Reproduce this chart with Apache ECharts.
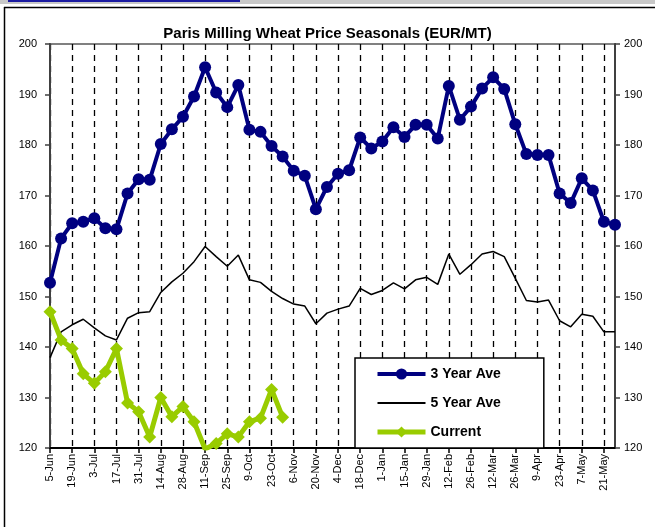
<!DOCTYPE html>
<html>
<head>
<meta charset="utf-8">
<script src="https://cdn.jsdelivr.net/npm/echarts@6/dist/echarts.min.js"></script>
<style>
html,body{margin:0;padding:0;background:#fff;}
#chart{width:655px;height:527px;}
</style>
</head>
<body>
<div id="chart"></div>
<script>
const categories = ['5-Jun','12-Jun','19-Jun','26-Jun','3-Jul','10-Jul','17-Jul','24-Jul','31-Jul','7-Aug','14-Aug','21-Aug','28-Aug','4-Sep','11-Sep','18-Sep','25-Sep','2-Oct','9-Oct','16-Oct','23-Oct','30-Oct','6-Nov','13-Nov','20-Nov','27-Nov','4-Dec','11-Dec','18-Dec','25-Dec','1-Jan','8-Jan','15-Jan','22-Jan','29-Jan','5-Feb','12-Feb','19-Feb','26-Feb','5-Mar','12-Mar','19-Mar','26-Mar','2-Apr','9-Apr','16-Apr','23-Apr','30-Apr','7-May','14-May','21-May','28-May'];

const threeYearAve = [152.7,161.5,164.5,164.8,165.5,163.5,163.3,170.4,173.2,173.1,180.2,183.1,185.6,189.6,195.4,190.4,187.5,191.9,183.0,182.6,179.8,177.7,174.9,173.9,167.3,171.7,174.3,175.0,181.5,179.3,180.7,183.5,181.6,184.0,184.0,181.3,191.7,185.0,187.6,191.2,193.4,191.1,184.1,178.2,178.0,178.0,170.4,168.5,173.4,171.0,164.8,164.2];

const fiveYearAve = [137.9,143.0,144.4,145.5,143.8,142.2,141.4,145.7,146.8,147.0,150.8,152.9,154.6,156.9,159.9,157.9,156.0,158.2,153.3,152.8,151.0,149.6,148.5,148.1,144.6,146.7,147.5,148.1,151.6,150.4,151.2,152.7,151.5,153.3,153.8,152.4,158.4,154.4,156.3,158.4,158.9,157.9,153.6,149.2,148.9,149.3,145.2,144.0,146.5,146.1,143.0,143.0];

const current = [147.0,141.4,139.7,134.7,132.8,135.1,139.7,128.9,127.2,122.2,130.0,126.2,128.2,125.2,119.8,120.9,122.8,122.2,125.2,125.9,131.6,126.1];

const yMin = 120, yMax = 200, yStep = 10;
const titleText = 'Paris Milling Wheat Price Seasonals (EUR/MT)';
const seriesNames = ['3 Year Ave','5 Year Ave','Current'];

const FONT = 'Liberation Sans, Arial, sans-serif';
const chart = echarts.init(document.getElementById('chart'), null, {renderer:'canvas'});

function yAxisOf(pos, margin){
  return {
    type:'value', position:pos, min:yMin, max:yMax, interval:yStep,
    axisLine:{show:true, lineStyle:{color:'#404040', width:2}},
    axisTick:{show:true, length:5, lineStyle:{color:'#404040', width:1.5}},
    axisLabel:{color:'#000', fontSize:11, fontFamily:FONT, margin:margin},
    splitLine:{show:false}
  };
}

chart.setOption({
  animation:false,
  backgroundColor:'#fff',
  title:{
    text:titleText, left:'center', top:21,
    textStyle:{fontFamily:FONT, fontSize:15, fontWeight:'bold', color:'#000'}
  },
  graphic:[
    {type:'rect', shape:{x:0,y:0,width:655,height:4}, style:{fill:'#c8c8c8'}, z:100},
    {type:'rect', shape:{x:8,y:0,width:232,height:2}, style:{fill:'#1a1aa0'}, z:101},
    {type:'line', shape:{x1:4,y1:7.5,x2:655,y2:7.5}, style:{stroke:'#000', lineWidth:1.5}, z:100},
    {type:'line', shape:{x1:4.5,y1:7,x2:4.5,y2:527}, style:{stroke:'#000', lineWidth:1.5}, z:100}
  ],
  grid:{left:50, right:40, top:44, bottom:79, show:true, borderColor:'#808080', borderWidth:2, containLabel:false},
  legend:{
    data:[
      {name:seriesNames[0], lineStyle:{width:4}},
      {name:seriesNames[1], icon:'path://M0,0H48V2H0Z', itemStyle:{color:'#000'}},
      {name:seriesNames[2], lineStyle:{width:5}}
    ],
    orient:'vertical', left:355, top:358,
    backgroundColor:'#fff', borderColor:'#000', borderWidth:1.5,
    padding:[9,43,9,20], itemGap:15, itemWidth:48, itemHeight:14,
    textStyle:{fontFamily:FONT, fontSize:14, fontWeight:'bold', color:'#000'}
  },
  xAxis:{
    type:'category', data:categories, boundaryGap:false,
    axisLine:{show:true, lineStyle:{color:'#000', width:2}},
    axisTick:{show:true, interval:1, length:5, lineStyle:{color:'#000', width:1.5}},
    axisLabel:{interval:1, rotate:90, color:'#000', fontSize:11, fontFamily:FONT, margin:6},
    splitLine:{show:true, interval:1, lineStyle:{color:'#000', width:1.3, type:[6,5]}}
  },
  yAxis:[ yAxisOf('left', 13), yAxisOf('right', 9) ],
  series:[
    {
      name:seriesNames[0], type:'line', data:threeYearAve, yAxisIndex:0,
      symbol:'circle', symbolSize:12, showAllSymbol:true,
      lineStyle:{color:'#000080', width:4}, itemStyle:{color:'#000080'}, z:5
    },
    {
      name:seriesNames[1], type:'line', data:fiveYearAve, yAxisIndex:0,
      symbol:'none', lineStyle:{color:'#000', width:1.5}, itemStyle:{color:'#000'}, z:3
    },
    {
      name:seriesNames[2], type:'line', data:current, yAxisIndex:0,
      symbol:'diamond', symbolSize:13, showAllSymbol:true,
      lineStyle:{color:'#99cc00', width:5}, itemStyle:{color:'#99cc00'}, z:4
    }
  ]
});
</script>
</body>
</html>
